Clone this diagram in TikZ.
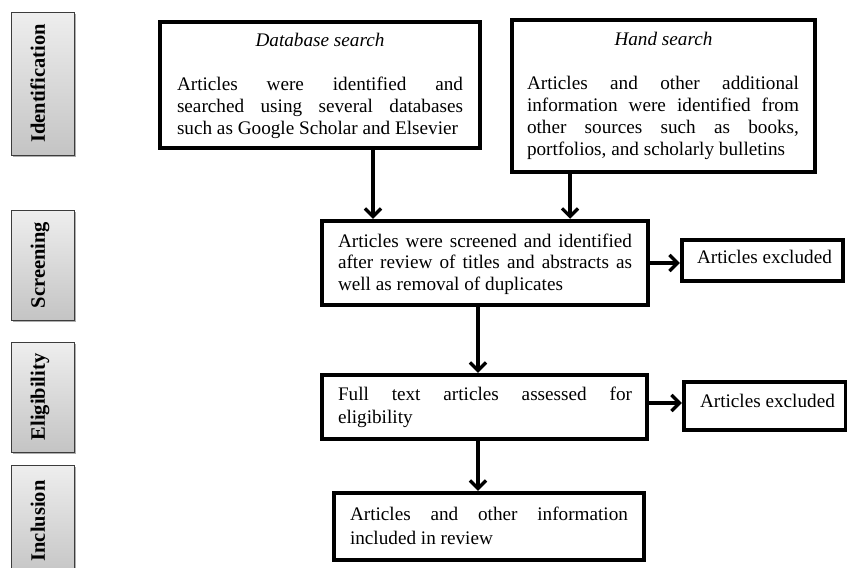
\documentclass[tikz,border=0pt]{standalone}
\usepackage{fontspec}
\setmainfont{Liberation Serif}
\usetikzlibrary{arrows.meta,shadows}
\hbadness=10000
\hfuzz=20pt
\hyphenpenalty=10000
\definecolor{sidetop}{RGB}{238,238,238}
\definecolor{sidebot}{RGB}{196,196,196}
\definecolor{sideline}{RGB}{60,60,60}
\begin{document}
\begin{tikzpicture}[x=1pt,y=-1pt,
  mainbox/.style={draw=black,line width=4.5pt,fill=white,inner sep=0pt},
  labeltext/.style={anchor=base west,inner sep=0pt,outer sep=0pt,font=\fontsize{19.2}{22}\selectfont},
  bodytext/.style={labeltext,align=justify},
  titletext/.style={anchor=base,inner sep=0pt,font=\fontsize{19.2}{22}\selectfont\itshape},
  sidebox/.style={draw=sideline,line width=1pt,top color=sidetop,bottom color=sidebot,
    minimum width=63pt,inner sep=0pt,
    drop shadow={shadow xshift=1.5pt,shadow yshift=-1.8pt,fill=black!45,opacity=0.7}},
  sidetext/.style={anchor=base,rotate=90,inner sep=0pt,font=\fontsize{20.5}{24}\selectfont\bfseries},
  arr/.style={line width=3.2pt,-{Straight Barb[length=8pt,width=16pt]}}]
\useasboundingbox (0,0) rectangle (847,568);
\clip (0,0) rectangle (847,568);

% side labels
\node[sidebox,minimum height=143pt] (sid) at (42.5,83.5) {};
\node[sidetext] (sidt) at (45,83.5) {Identification};
\node[sidebox,minimum height=110pt] (sscr) at (42.5,265) {};
\node[sidetext] (sscrt) at (45,265) {Screening};
\node[sidebox,minimum height=110pt] (selg) at (42.5,397) {};
\node[sidetext] (selgt) at (45,397) {Eligibility};
\node[sidebox,minimum height=113pt] (sinc) at (42.5,521.5) {};
\node[sidetext] (sinct) at (45,521) {Inclusion};

% main boxes
\node[mainbox,minimum width=320pt,minimum height=126pt] (db) at (320,85) {};
\node[titletext] (dbt) at (320,46) {Database search};
\node[bodytext,text width=286pt] (dbb) at (177,90)
  {Articles were identified and\linebreak searched using several databases\linebreak such as Google Scholar and Elsevier};

\node[mainbox,minimum width=303pt,minimum height=152pt] (hs) at (663.5,96) {};
\node[titletext] (hst) at (663.5,45) {Hand search};
\node[bodytext,text width=272pt] (hsb) at (527,89)
  {Articles and other additional\linebreak information were identified from\linebreak other sources such as books,\linebreak portfolios, and scholarly bulletins};

\node[mainbox,minimum width=326pt,minimum height=84pt] (scr) at (485,263) {};
\node[bodytext,text width=294pt,font=\fontsize{19.2}{21.5}\selectfont] (scrb) at (338,247)
  {Articles were screened and identified\linebreak after review of titles and abstracts as\linebreak well as removal of duplicates};

\node[mainbox,minimum width=161pt,minimum height=41pt] (ex1) at (762.5,260.5) {};
\node[labeltext] (ex1t) at (697,263) {Articles excluded};

\node[mainbox,minimum width=325pt,minimum height=64pt] (elg) at (484.5,407) {};
\node[bodytext,text width=294pt,font=\fontsize{19.2}{23}\selectfont] (elgb) at (338,400)
  {Full text articles assessed for\linebreak eligibility};

\node[mainbox,minimum width=162pt,minimum height=48pt] (ex2) at (765,406) {};
\node[labeltext] (ex2t) at (700,407) {Articles excluded};

\node[mainbox,minimum width=310pt,minimum height=67pt] (inc) at (489,526.5) {};
\node[bodytext,text width=278pt,font=\fontsize{19.2}{24}\selectfont] (incb) at (350,520)
  {Articles and other information\linebreak included in review};

% connectors
\coordinate (elgout) at ([yshift=4pt]elg.east);
\draw[arr] ([xshift=53pt]db.south) -- ([xshift=53pt]db.south |- scr.north);
\draw[arr] ([xshift=-93.5pt]hs.south) -- ([xshift=-93.5pt]hs.south |- scr.north);
\draw[arr] (scr.east) -- (ex1.west |- scr.east);
\draw[arr] ([xshift=-7pt]scr.south) -- ([xshift=-7pt]scr.south |- elg.north);
\draw[arr] (elgout) -- (ex2.west |- elgout);
\draw[arr] ([xshift=-6.5pt]elg.south) -- ([xshift=-6.5pt]elg.south |- inc.north);
\end{tikzpicture}
\end{document}
